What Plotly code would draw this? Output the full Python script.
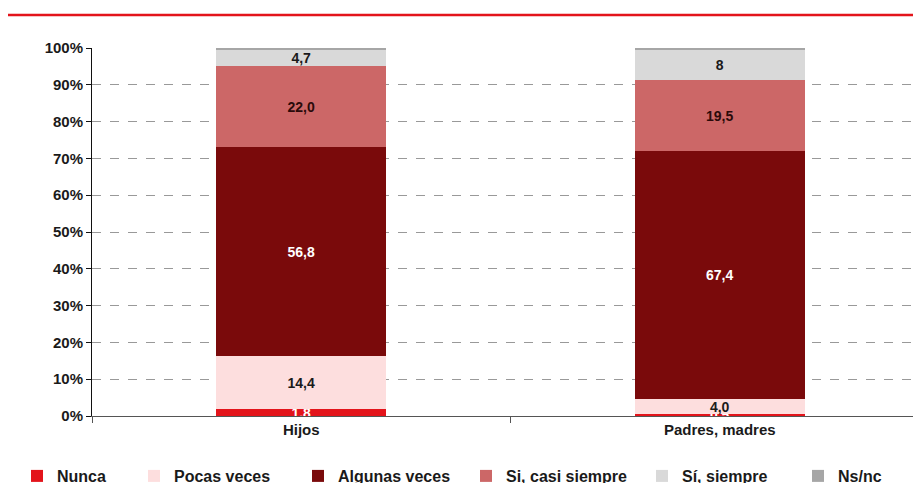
import plotly.graph_objects as go

categories = ["Hijos", "Padres, madres"]
series_names = ["Nunca", "Pocas veces", "Algunas veces", "Si, casi siempre", "Sí, siempre", "Ns/nc"]
nunca = [1.8, 0.5]
pocas = [14.4, 4.0]
algunas = [56.8, 67.4]
casi = [22.0, 19.5]
siempre = [4.7, 8.0]
nsnc = [0.3, 0.6]
labels = {
    "Nunca": ["1,8", "0,5"],
    "Pocas veces": ["14,4", "4,0"],
    "Algunas veces": ["56,8", "67,4"],
    "Si, casi siempre": ["22,0", "19,5"],
    "Sí, siempre": ["4,7", "8"],
    "Ns/nc": ["", ""],
}
y_ticks = list(range(0, 101, 10))
y_tick_labels = [f"{v}%" for v in y_ticks]

colors = ["#e3141b", "#fddede", "#7a0a0b", "#cc6767", "#d9d9d9", "#a6a6a6"]
text_colors = ["white", "#1a1a1a", "white", "#2a0a0a", "#1a1a1a", "#1a1a1a"]
values = [nunca, pocas, algunas, casi, siempre, nsnc]
legend_text_x = [55, 172, 336, 504, 680, 836]  # pixel x where each legend label starts

W, H = 921, 483
OFF = 8  # page body margin offset
L, T, B = 92 - OFF, 48 - OFF, H - (416 - OFF)
PH = H - T - B

FONT = "Liberation Sans"
fig = go.Figure()
layout_legends = {}
for i, (name, vals, col, tcol) in enumerate(zip(series_names, values, colors, text_colors)):
    lg = "legend" if i == 0 else f"legend{i+1}"
    fig.add_trace(go.Bar(
        x=categories, y=vals, name=name, legend=lg,
        marker=dict(color=col, line=dict(width=0)),
        text=labels[name], textposition="inside", insidetextanchor="middle",
        textangle=0, constraintext="none",
        textfont=dict(color=tcol, size=14, family=FONT, weight="bold"),
        width=0.406, hoverinfo="skip",
    ))
    layout_legends[lg] = dict(
        orientation="h", xref="container", yref="container",
        x=(legend_text_x[i] - 38 - OFF) / W, y=1 - (459 - OFF) / H,
        xanchor="left", yanchor="top", bgcolor="rgba(0,0,0,0)",
        font=dict(size=16, family=FONT, weight="bold", color="#1a1a1a"),
        itemwidth=30,
    )

fig.update_layout(
    barmode="stack",
    width=W, height=H,
    margin=dict(l=L, r=0, t=T, b=B, autoexpand=False),
    paper_bgcolor="white", plot_bgcolor="white",
    font=dict(family=FONT, size=14, color="#1a1a1a"),
    uniformtext=dict(mode="show", minsize=14),
    showlegend=True,
    xaxis=dict(range=[-0.5, 1.5], showline=True, linecolor="#555555", linewidth=1,
               ticks="outside", tickson="boundaries", ticklen=6, tickcolor="#555555",
               tickfont=dict(size=15, weight="bold"), showgrid=False, automargin=False),
    yaxis=dict(range=[0, 100], tickvals=y_ticks, ticktext=y_tick_labels,
               showline=True, linecolor="#111111", linewidth=1,
               ticks="outside", ticklen=5, tickcolor="#111111",
               tickfont=dict(size=15, weight="bold"),
               showgrid=True, gridcolor="#999999", griddash="dash", gridwidth=1,
               zeroline=False, automargin=False),
    **layout_legends,
)
line_y = (PH - (15 - OFF - T)) / PH
fig.add_shape(type="line", xref="paper", yref="paper", x0=(5 - OFF - L) / (W - L), x1=1.0,
              y0=line_y, y1=line_y, line=dict(color="#e3141b", width=2.5))
fig.write_html("out.html")
